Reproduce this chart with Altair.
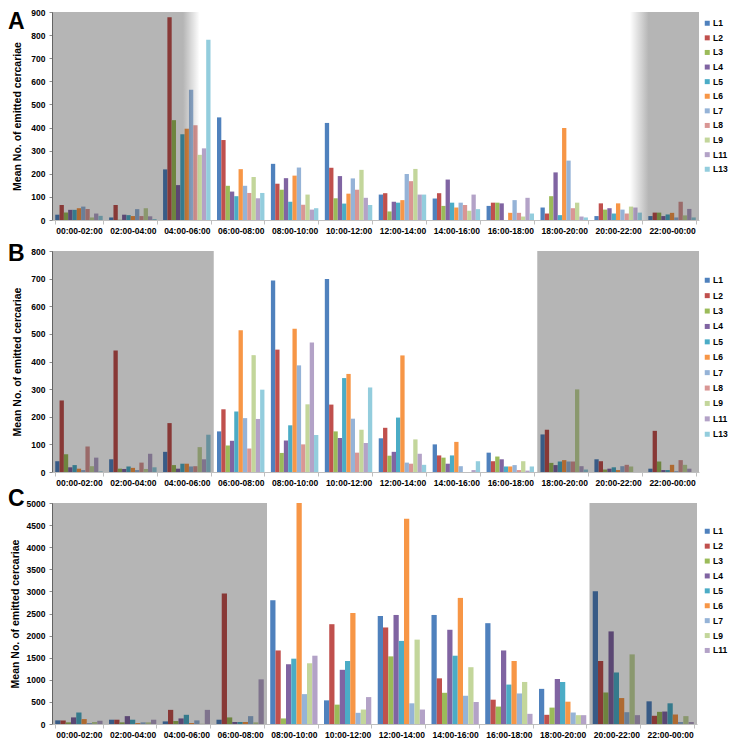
import altair as alt
import pandas as pd

FONT = "Liberation Sans"

TIMES = ["00:00-02:00", "02:00-04:00", "04:00-06:00", "06:00-08:00", "08:00-10:00",
         "10:00-12:00", "12:00-14:00", "14:00-16:00", "16:00-18:00", "18:00-20:00",
         "20:00-22:00", "22:00-00:00"]

SERIES_AB = ["L1", "L2", "L3", "L4", "L5", "L6", "L7", "L8", "L9", "L11", "L13"]
SERIES_C = ["L1", "L2", "L3", "L4", "L5", "L6", "L7", "L9", "L11"]

COLORS = {"L1": "#4F81BD", "L2": "#C0504D", "L3": "#9BBB59", "L4": "#8064A2",
          "L5": "#4BACC6", "L6": "#F79646", "L7": "#95B3D7", "L8": "#D99694",
          "L9": "#C3D69B", "L11": "#B3A2C7", "L13": "#93CDDD"}

# Panel A
a_L1 = [23, 11, 219, 444, 243, 420, 110, 93, 61, 54, 17, 17]
a_L2 = [65, 65, 877, 346, 157, 226, 116, 116, 75, 28, 72, 32]
a_L3 = [32, 1, 432, 148, 131, 94, 37, 61, 75, 103, 45, 32]
a_L4 = [44, 23, 151, 123, 181, 190, 79, 175, 72, 206, 51, 17]
a_L5 = [44, 21, 371, 103, 79, 71, 75, 75, 0, 21, 28, 24]
a_L6 = [51, 17, 395, 220, 192, 114, 86, 54, 31, 398, 72, 31]
a_L7 = [58, 47, 564, 148, 227, 180, 199, 75, 86, 257, 45, 11]
a_L8 = [48, 17, 410, 117, 66, 131, 168, 65, 31, 51, 28, 79]
a_L9 = [11, 51, 282, 186, 110, 217, 221, 40, 15, 75, 58, 20]
a_L11 = [28, 16, 310, 94, 45, 96, 110, 110, 96, 15, 54, 48]
a_L13 = [18, 4, 780, 117, 51, 65, 110, 47, 28, 11, 32, 11]

# Panel B
b_L1 = [39, 46, 73, 147, 693, 699, 122, 100, 70, 136, 46, 12]
b_L2 = [259, 440, 177, 227, 443, 244, 160, 60, 39, 153, 39, 149]
b_L3 = [64, 12, 25, 96, 69, 147, 59, 52, 56, 33, 9, 38]
b_L4 = [17, 11, 12, 113, 114, 123, 73, 30, 46, 25, 12, 7]
b_L5 = [25, 20, 30, 219, 169, 340, 197, 60, 20, 38, 17, 7]
b_L6 = [12, 15, 30, 513, 519, 355, 422, 109, 20, 43, 7, 26]
b_L7 = [7, 7, 20, 195, 386, 193, 34, 21, 25, 38, 21, 3]
b_L8 = [92, 34, 21, 85, 100, 70, 30, 0, 7, 38, 26, 43]
b_L9 = [21, 11, 90, 423, 245, 153, 118, 0, 39, 299, 20, 26]
b_L11 = [52, 66, 46, 192, 469, 105, 66, 7, 5, 21, 0, 12]
b_L13 = [2, 17, 135, 298, 134, 306, 26, 39, 20, 9, 0, 0]

# Panel C
c_L1 = [82, 97, 59, 97, 2800, 535, 2444, 2467, 2281, 795, 3001, 513]
c_L2 = [82, 97, 320, 2950, 1664, 2258, 2184, 1033, 550, 208, 1426, 186]
c_L3 = [37, 37, 67, 149, 126, 438, 1530, 706, 394, 371, 713, 275]
c_L4 = [149, 178, 126, 45, 1352, 1226, 2467, 2132, 1664, 1018, 2095, 282]
c_L5 = [260, 97, 208, 45, 1478, 1426, 1880, 1545, 892, 951, 1166, 468]
c_L6 = [111, 22, 22, 45, 5000, 2511, 4643, 2853, 1426, 505, 587, 215]
c_L7 = [22, 37, 82, 178, 676, 253, 468, 639, 691, 260, 267, 45]
c_L9 = [45, 37, 5, 37, 1374, 327, 1909, 1285, 951, 200, 1575, 178]
c_L11 = [74, 97, 320, 1010, 1545, 609, 327, 498, 230, 200, 200, 45]

A_VALUES = [a_L1, a_L2, a_L3, a_L4, a_L5, a_L6, a_L7, a_L8, a_L9, a_L11, a_L13]
B_VALUES = [b_L1, b_L2, b_L3, b_L4, b_L5, b_L6, b_L7, b_L8, b_L9, b_L11, b_L13]
C_VALUES = [c_L1, c_L2, c_L3, c_L4, c_L5, c_L6, c_L7, c_L9, c_L11]

SHADE = "rgba(0,0,0,0.29)"
CLEAR = "rgba(0,0,0,0)"


def grad(stops):
    return alt.LinearGradient(
        gradient="linear",
        stops=[alt.GradientStop(color=c, offset=o) for o, c in stops],
        x1=0, x2=1, y1=0, y2=0)


def panel(series, values, ymax, ystep, W, H, shades, letter, letter_y,
          leg_x, leg_y, row_pad, title_pad):
    rows = []
    for s, vals in zip(series, values):
        for t, v in zip(TIMES, vals):
            rows.append({"time": t, "series": s, "value": v})
    df = pd.DataFrame(rows)

    bars = alt.Chart(df).mark_bar().encode(
        x=alt.X("time:N", sort=TIMES,
                scale=alt.Scale(paddingInner=0.12, paddingOuter=0.06),
                axis=alt.Axis(title=None, labelAngle=0, tickBand="extent",
                              domainColor="#bfbfbf", tickColor="#bfbfbf",
                              tickSize=4, labelPadding=2, labelFontSize=8.5,
                              labelFontWeight="bold", labelFont=FONT,
                              labelColor="#000000")),
        xOffset=alt.XOffset("series:N", sort=series,
                            scale=alt.Scale(paddingInner=0, paddingOuter=0)),
        y=alt.Y("value:Q",
                scale=alt.Scale(domain=[0, ymax], nice=False),
                axis=alt.Axis(values=list(range(0, ymax + 1, ystep)),
                              format="d",
                              title="Mean No. of emitted cercariae",
                              grid=False, domainColor="#8c8c8c",
                              tickColor="#8c8c8c", tickSize=3, labelPadding=4,
                              labelFontSize=8.5, labelFontWeight="bold",
                              labelFont=FONT, labelColor="#000000",
                              titleFont=FONT, titleFontSize=10.5,
                              titleFontWeight="bold", titleColor="#000000",
                              titlePadding=title_pad)),
        color=alt.Color("series:N", sort=series,
                        scale=alt.Scale(domain=series,
                                        range=[COLORS[s] for s in series]),
                        legend=alt.Legend(title=None, orient="none",
                                          legendX=leg_x, legendY=leg_y,
                                          symbolType="square", symbolSize=25,
                                          symbolStrokeWidth=0,
                                          labelFont=FONT, labelFontSize=8.5,
                                          labelFontWeight="bold",
                                          labelColor="#000000",
                                          labelOffset=1.5, rowPadding=row_pad,
                                          padding=0)),
    )

    layers = [bars]
    for start, end, fill in shades:
        sdf = pd.DataFrame({"start": [start], "end": [end]})
        layers.append(
            alt.Chart(sdf).mark_rect(fill=fill).encode(
                x=alt.X("start:Q", scale=alt.Scale(domain=[0, 12], nice=False,
                                                   zero=False), axis=None),
                x2="end:Q",
                y=alt.value(0),
                y2=alt.value(H),
            ))

    txt = alt.Chart(pd.DataFrame({"k": [letter]})).mark_text(
        align="left", baseline="top", fontSize=23, fontWeight="bold",
        font=FONT, color="#000000"
    ).encode(text="k:N", x=alt.value(-44), y=alt.value(letter_y))
    layers.append(txt)

    return alt.layer(*layers).resolve_scale(x="independent").properties(
        width=W, height=H)


pA = panel(SERIES_AB, A_VALUES, 900, 100, 647, 208,
           [(0, 2.74, grad([(0, SHADE), (0.887, SHADE), (1, CLEAR)])),
            (10.72, 12, grad([(0, CLEAR), (0.27, SHADE), (1, SHADE)]))],
           "A", -1, 651, 7, 5.6, 8)

pB = panel(SERIES_AB, B_VALUES, 800, 100, 647, 221,
           [(0, 3, SHADE), (9, 12, SHADE)],
           "B", -8, 651, 25, 6.4, 8)

pC = panel(SERIES_C, C_VALUES, 5000, 500, 645, 221,
           [(0, 4, SHADE), (10, 12, SHADE)],
           "C", -15, 651, 24, 5.9, 6)

chart = alt.vconcat(pA, pB, pC, spacing=31, bounds="flush").resolve_scale(
    x="independent", y="independent", color="independent",
    xOffset="independent"
).properties(padding=0).configure_view(stroke=None)

chart.save("out.html", embed_options={"renderer": "svg", "actions": False})
